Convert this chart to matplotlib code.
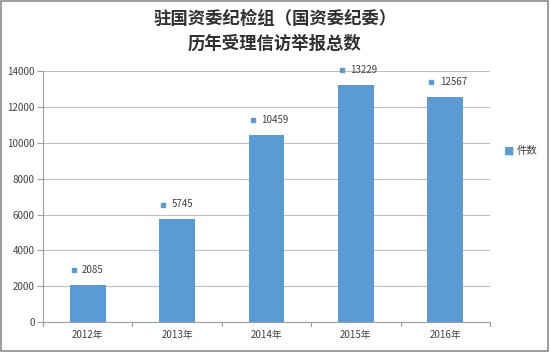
import matplotlib.pyplot as plt
import matplotlib.transforms as mtransforms
import numpy as np

plt.rcParams['font.family'] = ['Noto Sans CJK SC', 'DejaVu Sans']

years = ['2012年', '2013年', '2014年', '2015年', '2016年']
counts = [2085, 5745, 10459, 13229, 12567]
yticks = [0, 2000, 4000, 6000, 8000, 10000, 12000, 14000]

bar_color = '#5b9bd5'
text_color = '#404040'

fig = plt.figure(figsize=(5.5, 3.52), dpi=100)
ax = fig.add_axes([0.078, 0.085, 0.813, 0.713])

x = np.arange(len(years))
ax.bar(x, counts, width=0.4, color=bar_color, zorder=2)

# data labels: small blue square + value, a bit above each bar
shift = ax.transData + mtransforms.ScaledTranslation(-10 / 72, 10.5 / 72, fig.dpi_scale_trans)
for xi, v in zip(x, counts):
    ax.annotate(str(v), (xi, v), xytext=(-4, 7), textcoords='offset points',
                ha='left', va='bottom', fontsize=7, color=text_color)
    ax.plot([xi], [v], marker='s', ms=3.5, color=bar_color, ls='none',
            transform=shift, clip_on=False, zorder=3)

ax.set_xlim(-0.5, len(years) - 0.5)
ax.set_ylim(0, 14000)
ax.set_yticks(yticks)
ax.set_yticklabels([str(t) for t in yticks], fontsize=7, color=text_color)
ax.set_xticks(x)
ax.set_xticklabels(years, fontsize=7, color=text_color)
ax.tick_params(axis='x', length=0, pad=6)
ax.tick_params(axis='y', length=4, color='#a0a0a0', pad=2)
# tick marks between categories
for b in np.arange(-0.5, len(years), 1.0):
    ax.plot([b, b], [0, -220], color='#a0a0a0', lw=0.8, clip_on=False)

ax.grid(axis='y', color='#bfbfbf', lw=0.8, zorder=0)
for s in ['top', 'right']:
    ax.spines[s].set_visible(False)
ax.spines['left'].set_color('#a0a0a0')
ax.spines['bottom'].set_color('#a0a0a0')

fig.text(0.5, 0.945, '驻国资委纪检组（国资委纪委）', ha='center', va='center',
         fontsize=12.5, fontweight='bold', color='#303030')
fig.text(0.5, 0.875, '历年受理信访举报总数', ha='center', va='center',
         fontsize=12.5, fontweight='bold', color='#303030')

# legend
fig.text(0.925, 0.57, '■', ha='center', va='center', fontsize=7.5, color=bar_color)
fig.text(0.94, 0.57, '件数', ha='left', va='center', fontsize=7.5, color=text_color)

# outer frame
fig.patches.append(plt.Rectangle((0.002, 0.003), 0.995, 0.994, transform=fig.transFigure,
                                 fill=False, edgecolor='#8c8c8c', lw=1.2))

fig.savefig('out.png', dpi=100)
